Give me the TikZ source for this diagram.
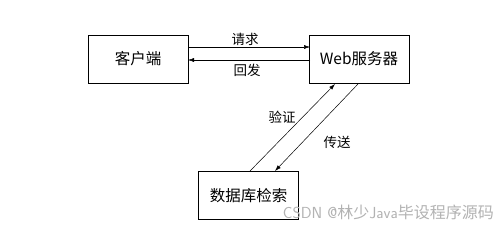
\documentclass[tikz,border=0pt]{standalone}
\usepackage{fontspec}
\newfontfamily\cjk{Noto Sans CJK SC}
\usetikzlibrary{arrows.meta}
\begin{document}
\begin{tikzpicture}[x=1pt,y=-1pt,
  box/.style={draw,line width=0.8pt,minimum width=100pt,minimum height=48pt,inner sep=0pt,font=\cjk\fontsize{15.5}{17}\selectfont},
  lbl/.style={font=\cjk\fontsize{13.5}{15}\selectfont,inner sep=0pt},
  conn/.style={line width=0.5pt,-{Latex[length=6pt,width=4pt]}}]
\useasboundingbox (0,0) rectangle (499,228);
\node[box] (client) at (138,59) {客户端};
\node[box] (web) at (359,59) {Web服务器};
\node[box] (db) at (248.5,195.5) {数据库检索};
\coordinate (c1) at (188,47);
\coordinate (w1) at (310,47);
\coordinate (w2) at (310,60);
\coordinate (c2) at (188,60);
\draw[conn] (c1) -- (w1);
\draw[conn] (w2) -- (c2);
\coordinate (d1) at (250,171);
\coordinate (v1) at (335,84);
\coordinate (v2) at (358,84);
\coordinate (d2) at (275,171);
\draw[conn] (d1) -- (v1);
\draw[conn] (v2) -- (d2);
\node[lbl] (req) at (245,39) {请求};
\node[lbl] (rep) at (247,70) {回发};
\node[lbl] (ver) at (282,117) {验证};
\node[lbl] (tra) at (337,142) {传送};
\node[font=\sffamily\fontsize{16}{18}\selectfont,text=black!30,inner sep=0pt,anchor=east] (wm) at (494,212) {CSDN @{\cjk 林少}Java{\cjk 毕设程序源码}};
\end{tikzpicture}
\end{document}
